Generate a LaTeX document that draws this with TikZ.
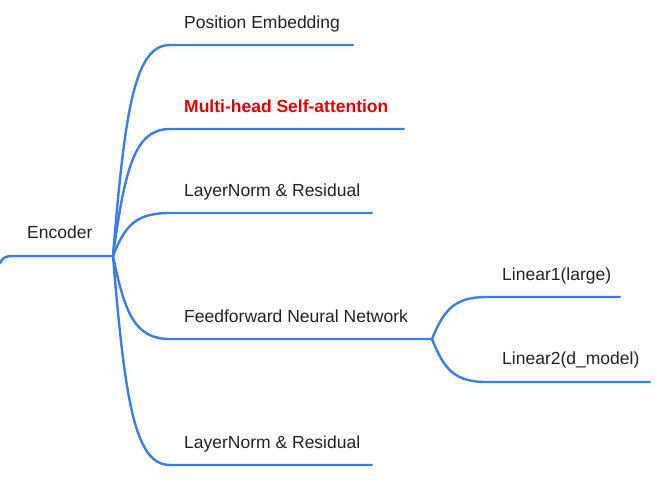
\documentclass[tikz,border=0pt]{standalone}
\usepackage{fontspec}
\setmainfont{Liberation Sans}
\definecolor{branch}{RGB}{59,125,232}
\definecolor{topictext}{RGB}{34,34,34}
\definecolor{hilite}{RGB}{222,0,0}
\begin{document}
\begin{tikzpicture}[x=1pt,y=-1pt,
  topic/.style={anchor=base west,inner sep=0pt,text=topictext,
    font=\fontsize{17.5}{21}\selectfont},
  keytopic/.style={topic,text=hilite,font=\fontsize{17.5}{21}\selectfont\bfseries},
  edge/.style={draw=branch,line width=2.4pt,line cap=round,line join=round}]
\useasboundingbox (0,0) rectangle (657,491);

% junction points of the tree
\coordinate (root) at (0,263);
\coordinate (encJ) at (113,256);
\coordinate (ffnJ) at (432,339);

% underline end points of each topic
\coordinate (pe-l) at (170,45);   \coordinate (pe-r) at (353,45);
\coordinate (mh-l) at (170,129);  \coordinate (mh-r) at (404,129);
\coordinate (ln1-l) at (170,213); \coordinate (ln1-r) at (372,213);
\coordinate (ffn-l) at (170,339);
\coordinate (ln2-l) at (170,465); \coordinate (ln2-r) at (372,465);
\coordinate (l1-l) at (487,297);  \coordinate (l1-r) at (620,297);
\coordinate (l2-l) at (487,382);  \coordinate (l2-r) at (650,382);

% topic labels
\node[topic]    (enc)  at (27,238)  {Encoder};
\node[topic]    (pe)   at (184,28)  {Position Embedding};
\node[keytopic] (mh)   at (184,112) {Multi-head Self-attention};
\node[topic]    (ln1)  at (184,196) {LayerNorm \& Residual};
\node[topic]    (ffn)  at (184,322) {Feedforward Neural Network};
\node[topic]    (ln2)  at (184,448) {LayerNorm \& Residual};
\node[topic]    (l1)   at (502,280) {Linear1(large)};
\node[topic]    (l2)   at (502,364) {Linear2(d\_model)};

% root stem
\draw[edge] (root) .. controls (3,257) and (6,256) .. (14,256) -- (encJ);

% encoder branches
\draw[edge] (encJ) .. controls (125,108) and (135,45)  .. (pe-l)  -- (pe-r);
\draw[edge] (encJ) .. controls (125,167) and (135,129) .. (mh-l)  -- (mh-r);
\draw[edge] (encJ) .. controls (125,226) and (135,213) .. (ln1-l) -- (ln1-r);
\draw[edge] (encJ) .. controls (125,314) and (135,339) .. (ffn-l) -- (ffnJ);
\draw[edge] (encJ) .. controls (125,402) and (135,465) .. (ln2-l) -- (ln2-r);

% feedforward branches
\draw[edge] (ffnJ) .. controls (444,310) and (454,297) .. (l1-l) -- (l1-r);
\draw[edge] (ffnJ) .. controls (444,369) and (454,382) .. (l2-l) -- (l2-r);
\end{tikzpicture}
\end{document}
